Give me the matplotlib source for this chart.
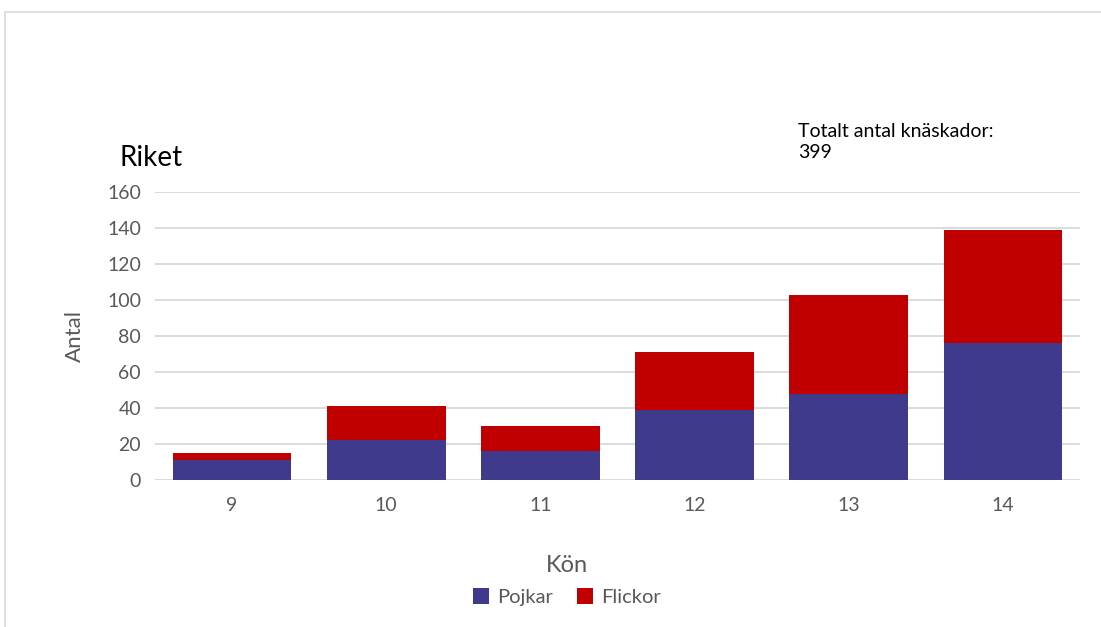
import matplotlib.pyplot as plt
import numpy as np
from matplotlib.patches import Rectangle

plt.rcParams["font.family"] = ["Lato", "DejaVu Sans"]

ages = ["9", "10", "11", "12", "13", "14"]
pojkar = [11, 22, 16, 39, 48, 76]
flickor = [4, 19, 14, 32, 55, 63]
total_label = "Totalt antal knäskador:\n399"

blue = "#3F3A8C"
red = "#C00000"
text_gray = "#595959"
grid_gray = "#D9D9D9"

fig = plt.figure(figsize=(11.01, 6.27), dpi=100)
ax = fig.add_axes([155 / 1101, 1 - 480 / 627, 925 / 1101, 288 / 627])

x = np.arange(len(ages))
ax.bar(x, pojkar, width=0.77, color=blue, label="Pojkar", zorder=3)
ax.bar(x, flickor, width=0.77, bottom=pojkar, color=red, label="Flickor", zorder=3)

ax.set_xlim(-0.5, len(ages) - 0.5)
ax.set_ylim(0, 160)
ax.set_yticks(range(0, 161, 20))
ax.set_xticks(x)
ax.set_xticklabels(ages)
ax.yaxis.grid(True, color=grid_gray, linewidth=1.3, zorder=0)
ax.set_axisbelow(True)
for s in ax.spines.values():
    s.set_visible(False)
ax.tick_params(length=0, colors=text_gray, labelsize=14)
ax.tick_params(axis="x", pad=12)
ax.tick_params(axis="y", pad=10)

ax.set_ylabel("Antal", fontsize=16, color=text_gray, labelpad=16)

fig.text(120 / 1101, 1 - 158 / 627, "Riket", fontsize=20, color="black",
         ha="left", va="center")
fig.text(798 / 1101, 1 - 142 / 627, total_label, fontsize=14, color="black",
         ha="left", va="center", linespacing=1.3)
fig.text(567 / 1101, 1 - 565 / 627, "Kön", fontsize=17, color=text_gray,
         ha="center", va="center")

leg = fig.legend(loc="center", bbox_to_anchor=(567 / 1101, 1 - 597 / 627),
                 ncol=2, frameon=False, fontsize=14.5, handlelength=0.8,
                 handleheight=0.8, handletextpad=0.4, columnspacing=1.2)
for t in leg.get_texts():
    t.set_color(text_gray)

# chart-area frame
fig.patches.append(Rectangle((5 / 1101, -0.1), 1.2, 1 - 12 / 627 + 0.1,
                             transform=fig.transFigure, fill=False,
                             edgecolor=grid_gray, linewidth=1.2))

fig.savefig("out.png", dpi=100)
